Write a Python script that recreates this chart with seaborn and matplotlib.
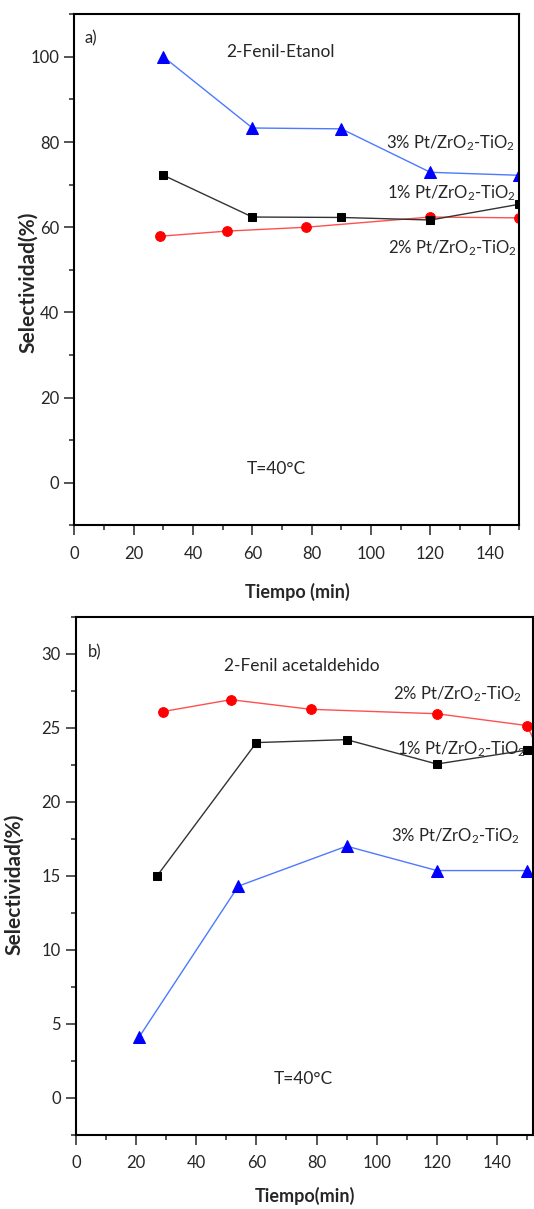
import numpy as np
import pandas as pd
import matplotlib
matplotlib.use("Agg")
import matplotlib.pyplot as plt
import seaborn as sns
from matplotlib.ticker import MultipleLocator

sns.set_style("ticks")
plt.rcParams['font.family'] = ['Lato', 'DejaVu Sans']
plt.rcParams['mathtext.fontset'] = 'custom'
plt.rcParams['mathtext.rm'] = 'Lato'
plt.rcParams['mathtext.it'] = 'Lato:italic'
plt.rcParams['mathtext.bf'] = 'Lato:bold'

# a) 2-Fenil-Etanol
a_t_3 = [30, 60, 90, 120, 150]
a_sel_3 = [100.0, 83.3, 83.1, 72.9, 72.2]
a_t_1 = [30, 60, 90, 120, 150]
a_sel_1 = [72.2, 62.4, 62.3, 61.7, 65.4]
a_t_2 = [29, 51.5, 78, 120, 150]
a_sel_2 = [57.9, 59.1, 60.0, 62.4, 62.2]

# b) 2-Fenil acetaldehido
b_t_2 = [29, 51.5, 78, 120, 150, 155]
b_sel_2 = [26.1, 26.9, 26.25, 25.95, 25.15, 23.0]
b_t_1 = [27, 60, 90, 120, 150]
b_sel_1 = [15.0, 24.0, 24.2, 22.55, 23.5]
b_t_3 = [21, 54, 90, 120, 150]
b_sel_3 = [4.1, 14.3, 17.0, 15.35, 15.35]

series_labels = [r"1% Pt/ZrO$_2$-TiO$_2$", r"2% Pt/ZrO$_2$-TiO$_2$", r"3% Pt/ZrO$_2$-TiO$_2$"]
x_ticks = [0, 20, 40, 60, 80, 100, 120, 140]

styles = {
    "1": dict(color="#333333", marker="s", markersize=6, markerfacecolor="black", markeredgecolor="black"),
    "2": dict(color="#ff5050", marker="o", markersize=7, markerfacecolor="#ff0000", markeredgecolor="#ff0000"),
    "3": dict(color="#4d79ff", marker="^", markersize=9, markerfacecolor="#0000ff", markeredgecolor="#0000ff"),
}

fig = plt.figure(figsize=(5.34, 12.09), dpi=100)
ax1 = fig.add_axes([0.1395, 0.5654, 0.833, 0.4228])
ax2 = fig.add_axes([0.1423, 0.0615, 0.856, 0.4283])


def draw(ax, t, sel, key):
    df = pd.DataFrame({"t": t, "sel": sel})
    sns.lineplot(data=df, x="t", y="sel", ax=ax, estimator=None, sort=False,
                 linewidth=1.0, **styles[key])


draw(ax1, a_t_2, a_sel_2, "2")
draw(ax1, a_t_1, a_sel_1, "1")
draw(ax1, a_t_3, a_sel_3, "3")

draw(ax2, b_t_3, b_sel_3, "3")
draw(ax2, b_t_1, b_sel_1, "1")
draw(ax2, b_t_2, b_sel_2, "2")

ax1.set_xlim(0, 150)
ax1.set_ylim(-10, 110)
ax1.yaxis.set_major_locator(MultipleLocator(20))
ax1.yaxis.set_minor_locator(MultipleLocator(10))

ax2.set_xlim(0, 152)
ax2.set_ylim(-2.5, 32.5)
ax2.yaxis.set_major_locator(MultipleLocator(5))
ax2.yaxis.set_minor_locator(MultipleLocator(2.5))

for ax in (ax1, ax2):
    ax.set_xticks(x_ticks)
    ax.xaxis.set_minor_locator(MultipleLocator(10))
    ax.tick_params(which="major", direction="out", length=7, width=1.1,
                   labelsize=12, top=False, right=False, pad=4)
    ax.tick_params(axis="x", which="major", pad=8)
    ax.tick_params(which="minor", direction="out", length=3.5, width=1.1,
                   top=False, right=False)
    for s in ax.spines.values():
        s.set_linewidth(1.5)
        s.set_color("black")
    ax.set_ylabel("Selectividad(%)", fontsize=15, fontweight="bold")

ax1.set_xlabel("Tiempo (min)", fontsize=13, fontweight="bold", labelpad=15)
ax2.set_xlabel("Tiempo(min)", fontsize=13, fontweight="bold", labelpad=11)
ax1.yaxis.set_label_coords(-0.082, 0.476)
ax2.yaxis.set_label_coords(-0.114, 0.484)

# annotations panel a
ax1.text(3.5, 104.3, "a)", fontsize=12, va="center", ha="left")
ax1.text(69.3, 101.1, "2-Fenil-Etanol", fontsize=12.5, va="center", ha="center")
ax1.text(105, 78.6, series_labels[2], fontsize=12, va="baseline", ha="left")
ax1.text(105.4, 66.7, series_labels[0], fontsize=12, va="baseline", ha="left")
ax1.text(105.7, 54.0, series_labels[1], fontsize=12, va="baseline", ha="left")
ax1.text(68.1, 3.3, "T=40°C", fontsize=12.5, va="center", ha="center")

# annotations panel b
ax2.text(4.0, 30.1, "b)", fontsize=12, va="center", ha="left")
ax2.text(75.0, 29.2, "2-Fenil acetaldehido", fontsize=12.5, va="center", ha="center")
ax2.text(105.4, 26.9, series_labels[1], fontsize=12, va="baseline", ha="left")
ax2.text(106.7, 23.2, series_labels[0], fontsize=12, va="baseline", ha="left")
ax2.text(104.8, 17.3, series_labels[2], fontsize=12, va="baseline", ha="left")
ax2.text(75.7, 1.25, "T=40°C", fontsize=12.5, va="center", ha="center")

fig.savefig("out.png", dpi=100)
